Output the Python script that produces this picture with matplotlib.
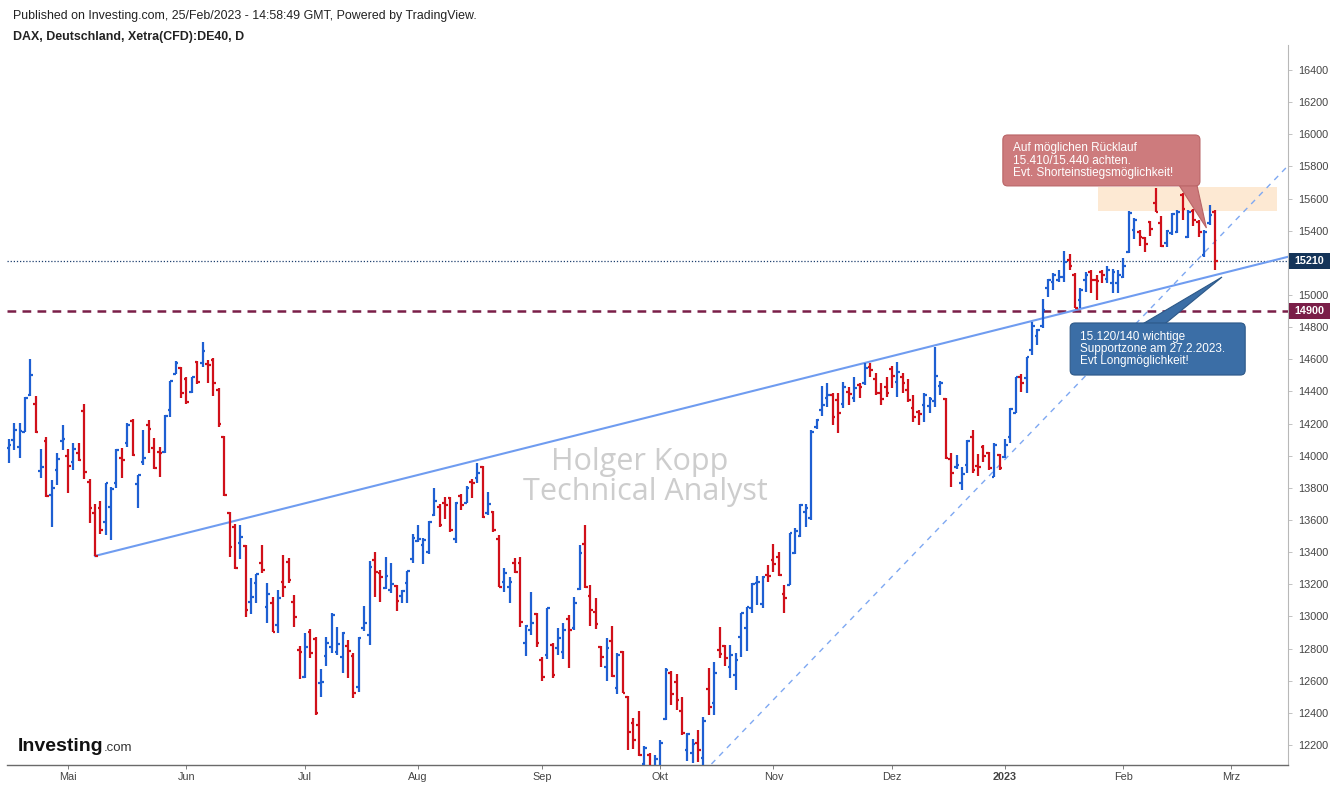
import matplotlib
matplotlib.use("Agg")
import matplotlib.pyplot as plt
from matplotlib.collections import LineCollection
from matplotlib.patches import FancyBboxPatch, Polygon, Rectangle
import numpy as np

# ---------------- data (DAX daily OHLC, bar index 0 = mid April 2022) ----------------
opens = [
    14048, 14098, 14054, 14148, 14377, 14322, 13905, 14092, 13755, 13911,
    14092, 13998, 13961, 14017, 14278, 13836, 13643, 13675, 13587, 13681,
    13830, 13986, 14079, 14216, 13824, 13961, 14191, 14048, 14023, 14023,
    14284, 14509, 14546, 14477, 14396, 14583, 14577, 14570, 14595, 14409,
    14116, 13643, 13556, 13457, 13438, 13090, 13208, 13332, 13059, 13084,
    12946, 13214, 13339, 13090, 12791, 12623, 12903, 12859, 12586, 12754,
    12810, 12779, 12748, 12816, 12754, 12561, 12928, 12884, 13351, 13270,
    13177, 13164, 13189, 13127, 13208, 13357, 13469, 13444, 13401, 13631,
    13681, 13706, 13737, 13482, 13749, 13706, 13836, 13861, 13930, 13643,
    13650, 13482, 13214, 13183, 13332, 13332, 12834, 12915, 13015, 12729,
    12760, 12822, 12803, 12779, 12984, 12928, 13171, 13451, 13127, 13028,
    12810, 12685, 12847, 12555, 12779, 12499, 12337, 12324, 12080, 12140,
    11960, 12060, 12362, 12648, 12592, 12411, 12168, 12150, 12212, 12119,
    12548, 12461, 12791, 12816, 12685, 12636, 12872, 12928, 13053, 13208,
    13078, 13258, 13351, 13370, 13140, 13196, 13395, 13500, 13650, 13612,
    14179, 14284, 14359, 14377, 14346, 14322, 14396, 14359, 14440, 14452,
    14552, 14477, 14390, 14428, 14539, 14459, 14490, 14409, 14297, 14272,
    14315, 14309, 14340, 14434, 14353, 13980, 13930, 13830, 13942, 14116,
    13936, 14054, 14017, 13868, 14004, 13992, 14116, 14266, 14490, 14484,
    14658, 14745, 14807, 15044, 15081, 15093, 15112, 15218, 15124, 14969,
    15093, 15143, 15093, 15143, 15100, 15075, 15075, 15112, 15268, 15404,
    15392, 15355, 15454, 15573, 15448, 15324, 15386, 15392, 15622, 15361,
    15523, 15454, 15249, 15448, 15517,
]
highs = [
    14104, 14203, 14203, 14365, 14601, 14371, 14041, 14116, 13849, 14017,
    14191, 14041, 14079, 14079, 14322, 13855, 13699, 13718, 13830, 13805,
    14041, 14048, 14203, 14228, 13880, 14160, 14222, 14110, 14054, 14253,
    14465, 14589, 14552, 14490, 14490, 14589, 14708, 14595, 14608, 14421,
    14123, 13650, 13575, 13569, 13444, 13239, 13264, 13444, 13208, 13121,
    13164, 13382, 13363, 13133, 12816, 12897, 12921, 12872, 12673, 12872,
    13021, 12934, 12903, 12853, 12772, 12872, 13065, 13345, 13401, 13289,
    13370, 13332, 13196, 13164, 13283, 13513, 13569, 13488, 13594, 13799,
    13699, 13743, 13743, 13712, 13762, 13811, 13855, 13955, 13936, 13774,
    13656, 13507, 13301, 13245, 13363, 13370, 12946, 13152, 13021, 12748,
    13053, 12835, 12928, 12959, 13009, 13121, 13444, 13569, 13196, 13115,
    12816, 12866, 12940, 12772, 12785, 12505, 12368, 12411, 12193, 12150,
    12140, 12230, 12679, 12660, 12642, 12499, 12276, 12237, 12293, 12374,
    12679, 12716, 12934, 12822, 12822, 12772, 13021, 13059, 13208, 13252,
    13252, 13320, 13451, 13401, 13196, 13519, 13550, 13699, 13699, 14160,
    14228, 14434, 14452, 14390, 14390, 14459, 14428, 14490, 14452, 14577,
    14577, 14515, 14452, 14490, 14558, 14583, 14515, 14477, 14377, 14284,
    14390, 14365, 14677, 14465, 14359, 14017, 14004, 13930, 14098, 14160,
    14010, 14066, 14023, 14079, 14010, 14104, 14297, 14490, 14508, 14614,
    14832, 14788, 14975, 15100, 15137, 15155, 15274, 15255, 15137, 15043,
    15143, 15155, 15124, 15155, 15180, 15162, 15155, 15230, 15523, 15479,
    15404, 15361, 15460, 15666, 15492, 15404, 15510, 15529, 15635, 15529,
    15535, 15467, 15404, 15560, 15529,
]
lows = [
    13954, 14035, 13986, 14148, 14371, 14141, 13861, 13743, 13556, 13818,
    14035, 13768, 13911, 13967, 13855, 13581, 13376, 13513, 13507, 13475,
    13799, 13861, 14054, 13998, 13675, 13942, 14017, 13917, 13868, 14017,
    14241, 14509, 14359, 14322, 14390, 14446, 14552, 14452, 14371, 14179,
    13749, 13370, 13295, 13357, 12999, 13015, 13084, 13270, 12959, 12903,
    12897, 13121, 13208, 12934, 12610, 12617, 12741, 12386, 12499, 12691,
    12772, 12760, 12648, 12617, 12492, 12530, 12909, 12822, 13121, 13090,
    13171, 13146, 13034, 13084, 13084, 13332, 13463, 13326, 13388, 13625,
    13556, 13606, 13525, 13457, 13662, 13706, 13737, 13830, 13612, 13631,
    13525, 13183, 13152, 13084, 13270, 12934, 12754, 12884, 12810, 12598,
    12735, 12617, 12760, 12735, 12679, 12915, 13164, 13177, 12940, 12921,
    12685, 12598, 12623, 12517, 12524, 12168, 12175, 12131, 11975, 11862,
    11869, 11940, 12355, 12449, 12417, 12262, 12100, 12087, 12094, 11980,
    12386, 12386, 12741, 12691, 12617, 12542, 12748, 12785, 13021, 13071,
    13053, 13214, 13276, 13252, 13021, 13196, 13388, 13494, 13556, 13600,
    14166, 14247, 14303, 14191, 14141, 14297, 14315, 14334, 14359, 14440,
    14490, 14377, 14315, 14365, 14421, 14365, 14390, 14334, 14209, 14191,
    14209, 14266, 14303, 14377, 13980, 13805, 13917, 13786, 13892, 13892,
    13874, 13961, 13911, 13868, 13911, 13986, 14079, 14266, 14396, 14390,
    14627, 14689, 14795, 14988, 15031, 15081, 15081, 15155, 14919, 14919,
    15019, 15012, 14969, 15075, 15075, 15012, 15012, 15106, 15262, 15349,
    15305, 15268, 15367, 15517, 15299, 15299, 15373, 15386, 15467, 15355,
    15430, 15361, 15237, 15436, 15155,
]
closes = [
    14066, 14160, 14154, 14359, 14502, 14148, 13930, 13749, 13799, 13980,
    14104, 13936, 14041, 13973, 13898, 13675, 13376, 13538, 13830, 13793,
    14035, 13973, 14191, 14004, 13880, 13986, 14166, 13924, 14017, 14247,
    14465, 14577, 14390, 14334, 14490, 14459, 14652, 14564, 14452, 14197,
    13755, 13432, 13301, 13494, 13040, 13121, 13264, 13289, 13140, 12903,
    13115, 13183, 13226, 12996, 12779, 12810, 12772, 12399, 12592, 12834,
    13009, 12828, 12897, 12785, 12524, 12866, 12959, 13308, 13276, 13245,
    13252, 13202, 13096, 13158, 13283, 13488, 13482, 13475, 13587, 13718,
    13569, 13693, 13538, 13706, 13693, 13799, 13830, 13892, 13618, 13699,
    13538, 13183, 13270, 13214, 13276, 12965, 12940, 12959, 12834, 12623,
    13053, 12636, 12866, 12915, 12915, 13084, 13395, 13183, 13040, 12953,
    12748, 12803, 12629, 12760, 12524, 12281, 12231, 12137, 12183, 11975,
    12114, 12209, 12666, 12517, 12480, 12274, 12270, 12206, 12168, 12349,
    12436, 12648, 12766, 12741, 12760, 12729, 13021, 13059, 13202, 13214,
    13245, 13252, 13326, 13258, 13115, 13519, 13531, 13693, 13675, 14148,
    14222, 14315, 14377, 14241, 14266, 14428, 14384, 14421, 14428, 14546,
    14533, 14390, 14353, 14390, 14496, 14521, 14452, 14346, 14241, 14260,
    14377, 14353, 14496, 14452, 13986, 13892, 13942, 13886, 14092, 13911,
    13930, 13998, 13924, 14066, 13924, 14066, 14291, 14490, 14452, 14614,
    14807, 14782, 14907, 15093, 15124, 15112, 15205, 15181, 14919, 15031,
    15124, 15093, 15087, 15124, 15155, 15143, 15124, 15181, 15510, 15467,
    15361, 15318, 15411, 15517, 15305, 15398, 15504, 15517, 15535, 15517,
    15467, 15392, 15392, 15498, 15210,
]

month_labels = ["Mai", "Jun", "Jul", "Aug", "Sep", "Okt", "Nov", "Dez", "2023", "Feb", "Mrz"]
month_index = [11, 33, 55, 76, 99, 121, 142, 164, 185, 207, 227]
price_ticks = list(range(12200, 16401, 200))

last_price = 15210
level_price = 14900
# trend lines: (bar index, price) anchor pairs
trend_solid = [(16, 13376), (172, 14687)]
trend_dashed = [(178.1, 13737), (191.5, 14203)]
zone_bars = (202.3, 235.5)
zone_prices = (15523, 15672)

# ---------------- styling ----------------
W, H = 1332, 787
UP = "#1e5fd2"
DOWN = "#d0101a"
FONT = "Liberation Sans"
plt.rcParams["font.family"] = [FONT, "DejaVu Sans"]

fig = plt.figure(figsize=(W / 100, H / 100), dpi=100)
fig.patch.set_facecolor("white")
ax = fig.add_axes([7 / W, (H - 765) / H, (1288 - 7) / W, (765 - 45) / H])
ax.set_facecolor("white")
XMIN, XMAX = -0.33, 237.55
YMIN, YMAX = 12075, 16556
ax.set_xlim(XMIN, XMAX)
ax.set_ylim(YMIN, YMAX)

# OHLC bars
tick = 0.5
segs, cols = [], []
for i, (o, h, l, c) in enumerate(zip(opens, highs, lows, closes)):
    col = UP if c >= o else DOWN
    segs += [[(i, l), (i, h)], [(i - tick, o), (i, o)], [(i, c), (i + tick, c)]]
    cols += [col] * 3
ax.add_collection(LineCollection(segs, colors=cols, linewidths=1.6,
                                 capstyle="butt", zorder=3))

# horizontal levels
ax.axhline(last_price, color="#1c3f6e", lw=0.9, ls=(0, (1, 1.5)), zorder=2)
ax.axhline(level_price, color="#7a1e48", lw=1.8, ls=(0, (3.5, 2.5)), zorder=2)

# solid trend line
(x1, y1), (x2, y2) = trend_solid
s = (y2 - y1) / (x2 - x1)
ax.plot([x1, XMAX], [y1, y1 + s * (XMAX - x1)], color="#6f9cf0", lw=1.5, zorder=2)
# dashed trend line
(x1, y1), (x2, y2) = trend_dashed
s = (y2 - y1) / (x2 - x1)
xs0 = x1 + (YMIN - 200 - y1) / s
ax.plot([xs0, XMAX], [YMIN - 200, y1 + s * (XMAX - x1)], color="#7ea8f2", lw=1.0,
        ls=(0, (4, 4)), zorder=2)

# resistance zone
ax.add_patch(Rectangle((zone_bars[0], zone_prices[0]), zone_bars[1] - zone_bars[0],
                       zone_prices[1] - zone_prices[0], facecolor="#fde6cc",
                       edgecolor="none", alpha=0.85, zorder=1))

# watermark
ax.text(117.2, 13960, "Holger Kopp", fontsize=22, color="#cdcdcd", ha="center",
        va="center", zorder=1, family=["Open Sans", "DejaVu Sans"])
ax.text(118.3, 13775, "Technical Analyst", fontsize=22, color="#cdcdcd", ha="center",
        va="center", zorder=1, family=["Open Sans", "DejaVu Sans"])

# callouts (data coords)
asp = 31.0 / 0.93
red_box = (184.6, 15679, 221.2 - 184.6, 15996 - 15679)
ax.add_patch(Polygon([(217.2, 15690), (220.6, 15690), (222.4, 15417)], closed=True,
                     facecolor="#cd7b7d", edgecolor="#b96466", lw=0.8, zorder=5))
ax.add_patch(FancyBboxPatch(red_box[:2], red_box[2], red_box[3],
                            boxstyle="round,pad=0,rounding_size=0.9", mutation_aspect=asp,
                            facecolor="#cd7b7d", edgecolor="#b96466", lw=0.8, zorder=5))
ax.text(186.4, 15837, "Auf möglichen Rücklauf\n15.410/15.440 achten.\nEvt. Shorteinstiegsmöglichkeit!",
        color="white", fontsize=8.5, va="center", ha="left", linespacing=1.05, zorder=6)

blue_box = (197.1, 14502, 229.6 - 197.1, 14826 - 14502)
ax.add_patch(Polygon([(210.3, 14815), (214.5, 14815), (225.3, 15112)], closed=True,
                     facecolor="#3b6ea6", edgecolor="#2c5888", lw=0.8, zorder=5))
ax.add_patch(FancyBboxPatch(blue_box[:2], blue_box[2], blue_box[3],
                            boxstyle="round,pad=0,rounding_size=0.9", mutation_aspect=asp,
                            facecolor="#3b6ea6", edgecolor="#2c5888", lw=0.8, zorder=5))
ax.text(198.9, 14664, "15.120/140 wichtige\nSupportzone am 27.2.2023.\nEvt Longmöglichkeit!",
        color="white", fontsize=8.5, va="center", ha="left", linespacing=1.05, zorder=6)

# axes styling
for sp in ["top", "left"]:
    ax.spines[sp].set_visible(False)
ax.spines["right"].set_color("#b8b8b8")
ax.spines["right"].set_linewidth(0.8)
ax.spines["bottom"].set_color("#6a6a6a")
ax.spines["bottom"].set_linewidth(1.0)
ax.yaxis.tick_right()
ax.set_yticks(price_ticks)
# the 15200 label is hidden behind the last-price tag in the reference
ax.set_yticklabels(["" if abs(p - last_price) < 60 else str(p) for p in price_ticks])
ax.tick_params(axis="y", length=3, width=0.6, color="#b8b8b8", pad=4,
               labelsize=7.8, labelcolor="#444444")
ax.set_xticks(month_index)
ax.set_xticklabels(month_labels)
ax.tick_params(axis="x", length=3, width=0.6, color="#6a6a6a", pad=2,
               labelsize=7.8, labelcolor="#444444")
for lab in ax.get_xticklabels():
    if lab.get_text() == "2023":
        lab.set_fontweight("bold")

# price tags on the right axis
def tag(price, fc):
    ypx = (YMAX - price) / (YMAX - YMIN) * (765 - 45) + 45
    fig.patches.append(Rectangle((1289 / W, 1 - (ypx + 8) / H), 41 / W, 16 / H,
                                 transform=fig.transFigure, facecolor=fc,
                                 edgecolor="none", zorder=10))
    fig.text(1309.5 / W, 1 - ypx / H, str(price), color="white", fontsize=7.8,
             fontweight="bold", ha="center", va="center", zorder=11)

tag(last_price, "#143459")
tag(level_price, "#7a1e48")

# header
fig.text(13 / W, 1 - 16 / H,
         "Published on Investing.com, 25/Feb/2023 - 14:58:49 GMT, Powered by TradingView.",
         fontsize=8.9, color="#222222", ha="left", va="center")
fig.text(13 / W, 1 - 37 / H, "DAX, Deutschland, Xetra(CFD):DE40, D",
         fontsize=8.9, color="#222222", fontweight="bold", ha="left", va="center")

# Investing.com logo
t1 = fig.text(18 / W, 1 - 751 / H, "Investing", fontsize=14, fontweight="bold",
              color="#111111", ha="left", va="baseline", zorder=12)
fig.canvas.draw()
bb = t1.get_window_extent()
fig.text((bb.x1 + 0.5) / W, 1 - 751 / H, ".com", fontsize=9.5, color="#333333",
         ha="left", va="baseline", zorder=12)

fig.savefig("out.png", dpi=100, facecolor="white")
